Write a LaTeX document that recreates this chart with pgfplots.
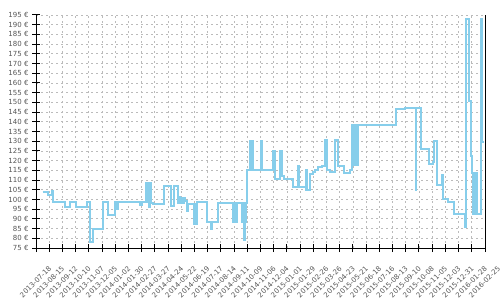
\documentclass[border=0pt]{standalone}
\usepackage{pgfplots}
\pgfplotsset{compat=1.18}
\usepackage{fontspec}
\setmainfont{DejaVu Sans}
\definecolor{lineblue}{HTML}{87CEEB}
\definecolor{gridgray}{HTML}{BBBBBB}
\definecolor{labelgray}{HTML}{555555}
\pgfplotstableread{
d v
14 104
26 102.5
33 104.5
37 98.5
62 96.3
73 98.5
85 96.3
108 98.5
115 78
121 84.8
141 98.5
152 92.2
167 98.5
170 95
173 98.5
221 97
224 98.5
233 108.5
234 98.5
235 108.5
236 98.5
237 108.5
238 98.5
239 108.5
240 96
241 108.5
242 98.5
243 108.5
244 98
249 97.8
271 106.7
285.5 96.4
293 106.7
302 98
303 101.5
304 98
305 101.5
306 98
307 101
310 98
311 101
313 98
314 101
316 99
320 93.9
321.5 97.6
336 87.4
337 97.6
338 87.4
339 97.6
340 87.4
340.6 98.9
362 88.2
371 84.8
373 88.2
386.6 98.4
418 88.2
419 98.4
420 88.2
421 98.4
422 88.2
423 98.4
424 88.2
425.4 98
436 88.2
437 98
438 88.2
439 98
440 88.2
441.5 79.3
442.5 88.2
443 98
444 88.2
445 98
446.6 115.3
453.7 130
454.5 115.3
455.5 130
456.5 115.3
457.5 130
458.5 115.3
459.5 130
460.8 115.3
477 130
478.5 115.3
502 125.1
506.7 110.7
517.3 125.1
522.3 112.2
526.5 110.7
544.2 106.2
556 117
558.3 106.2
572.4 104.7
573.5 115.3
575 104.7
581 113.3
586.5 114
591.5 115.3
598.6 116.6
605.6 117.4
612.7 130.8
617.6 115.3
623.3 113.9
634 130.8
639.6 117.4
653 113.5
665.7 115.3
670.6 138.2
671.5 117.9
672.5 138.2
673.5 117.9
674.5 138.2
675.5 117.9
676.5 138.2
677.5 117.9
678.5 138.2
679.5 117.9
680.5 138.2
681.5 118
682.5 138.2
763.2 146.6
782.3 147.3
805 105
806.3 147.3
815.5 126.1
833.5 118.3
841 119.5
843.8 130.3
850.8 107.2
860 112.5
863.6 100.4
874.2 98.7
886.2 92.5
909.5 85.8
911.6 193.1
918 150.5
922.2 122.2
925 113.6
926 92.5
927 113.6
928 92.5
929 113.6
930 92.5
931 113.6
932 92.5
933 113.6
934 92.5
944.1 193
946.3 129.4
950 129.4
}\pricedata
\begin{document}
\begin{tikzpicture}
\begin{axis}[
  scale only axis, width=449bp, height=233bp,
  xmin=0, xmax=952, ymin=75, ymax=195,
  xtick={0,28,...,952},
  xticklabels={2013-07-18,2013-08-15,2013-09-12,2013-10-10,2013-11-07,2013-12-05,2014-01-02,2014-01-30,2014-02-27,2014-03-27,2014-04-24,2014-05-22,2014-06-19,2014-07-17,2014-08-14,2014-09-11,2014-10-09,2014-11-06,2014-12-04,2015-01-01,2015-01-29,2015-02-26,2015-03-26,2015-04-23,2015-05-21,2015-06-18,2015-07-16,2015-08-13,2015-09-10,2015-10-08,2015-11-05,2015-12-03,2015-12-31,2016-01-28,2016-02-25},
  ytick={75,80,...,195},
  yticklabel={\pgfmathprintnumber{\tick}~€},
  /pgf/number format/assume math mode=true,
  tick label style={text=labelgray, font=\fontsize{7bp}{8bp}\selectfont},
  xticklabel style={xshift=12bp, yshift=-12bp, rotate=45, anchor=north east, inner sep=1bp},
  tick align=center, major tick length=8bp,
  tick style={black, line width=1bp},
  xtick pos=bottom, ytick pos=left,
  grid=major, grid style={gridgray, dash pattern=on 2bp off 3bp, line width=0.8bp},
  axis x line*=bottom, axis y line*=box,
  axis line style={black, line width=1bp, -},
]
\addplot[const plot, lineblue, line width=2bp] table[x=d, y=v] {\pricedata};
\end{axis}
\pgfresetboundingbox
\path ([xshift=-36bp, yshift=-52bp]current axis.south west) rectangle ([xshift=15bp, yshift=15bp]current axis.north east);
\end{tikzpicture}
\end{document}
